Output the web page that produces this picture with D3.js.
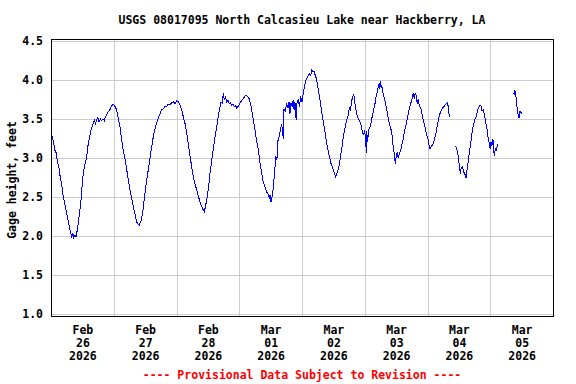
<html>
<head>
<meta http-equiv="Content-Type" content="text/html; charset=utf-8" />
<title>USGS 08017095 North Calcasieu Lake near Hackberry, LA</title>
<script src="https://cdn.jsdelivr.net/npm/d3@7"></script>
<style type="text/css">
	body{
		margin: 0;
		background: #fff;
	}
	svg text{
		font-family: "DejaVu Sans Mono", "Liberation Mono", monospace;
		font-weight: bold;
		font-size: 11.5px;
	}
</style>
</head>
<body>
<div id="chart"></div>

<script type="text/javascript">
	// hours after 2026-02-26 00:00, null = gap in the record
	var obsHours = [
		0,0.49,0.98,1.46,1.95,2.54,2.93,3.42,4.10,4.69,5.37,6.01,6.88,7.42,7.91,8.30,8.69,9.18,9.57,9.96,
		10.45,10.94,11.47,11.91,12.35,12.99,13.67,14.26,14.75,15.28,15.72,16.16,16.60,16.99,17.48,17.87,18.36,18.85,19.38,19.92,
		20.41,20.80,21.29,21.88,22.56,23.24,23.83,24.32,25.10,25.68,26.37,26.95,27.64,28.32,28.96,29.59,30.22,30.86,31.45,32.13,
		32.76,33.30,33.79,34.38,35.06,35.45,35.94,36.62,37.21,37.89,38.53,39.16,39.80,40.43,41.02,41.70,42.33,42.97,43.56,44.24,
		44.82,45.41,46.14,46.87,47.46,48.05,48.63,49.32,50.00,50.59,51.27,51.90,52.54,53.17,53.81,54.44,55.08,55.71,56.35,56.98,
		57.62,58.11,58.64,59.08,59.76,60.25,60.79,61.23,61.67,62.21,62.74,63.38,63.96,64.45,65.04,65.43,65.92,66.31,66.70,67.19,
		67.68,68.16,68.65,69.09,69.63,70.12,70.61,71.05,71.58,72.17,72.95,73.73,74.61,75.20,75.83,76.27,76.76,77.34,78.03,78.61,
		79.30,79.88,80.57,81.15,81.84,82.42,83.11,83.50,83.79,84.13,84.57,85.01,85.45,86.04,86.43,86.62,87.21,87.70,88.23,88.67,
		88.87,89.11,89.55,90.14,90.63,91.02,91.41,91.80,92.19,92.58,92.97,93.31,93.75,94.04,94.58,95.02,95.51,96.00,96.48,96.97,
		97.51,98.14,98.78,99.32,99.80,100.20,100.59,100.98,101.47,101.86,102.34,102.88,103.42,103.91,104.35,104.79,105.27,105.81,106.45,107.08,
		107.52,107.96,108.40,108.89,109.37,109.86,110.35,110.79,111.33,111.82,112.40,113.09,113.57,114.11,114.55,114.94,115.38,115.82,116.26,116.70,
		117.14,117.77,118.46,118.95,119.43,119.92,120.31,120.60,120.75,121.09,121.48,122.02,122.46,122.95,123.44,123.93,124.32,124.81,125.19,125.58,
		125.78,125.98,126.27,126.47,126.86,127.35,127.83,128.42,128.91,129.40,129.88,130.32,130.67,130.96,131.35,131.69,132.03,132.42,132.81,133.30,
		133.74,134.28,134.77,135.26,135.79,136.23,136.67,137.11,137.60,138.09,138.58,138.97,139.26,139.60,140.04,140.48,140.92,141.41,141.90,142.38,
		142.87,143.41,143.85,144.29,144.63,144.97,145.51,146.00,146.48,146.87,147.36,147.75,148.24,148.78,149.31,149.80,150.29,150.68,151.17,151.56,
		151.95,152.34,153.3,
		154.79,155.27,155.57,156.15,156.54,156.84,157.23,157.72,158.10,158.50,158.74,159.18,159.62,160.06,160.55,161.04,161.52,162.01,162.55,162.99,
		163.43,163.87,164.36,164.85,165.33,165.82,166.36,166.80,167.24,167.58,167.92,168.26,168.65,169.04,169.53,169.92,170.31,170.85,171.9,
		176.81,177.15,177.44,177.84,178.32,178.71,179.01,179.40,179.64,180.03
	];
	// gage height, feet
	var obsFeet = [
		3.32,3.27,3.20,3.10,3.07,2.93,2.90,2.78,2.66,2.50,2.40,2.29,2.14,2.05,1.99,2.04,1.98,2.01,1.99,2.06,
		2.17,2.30,2.46,2.65,2.81,2.92,3.02,3.19,3.26,3.36,3.40,3.44,3.50,3.43,3.49,3.52,3.46,3.50,3.48,3.50,
		3.48,3.53,3.55,3.59,3.62,3.67,3.69,3.67,3.62,3.52,3.40,3.25,3.10,2.98,2.85,2.72,2.59,2.48,2.38,2.28,
		2.18,2.15,2.14,2.19,2.29,2.41,2.55,2.72,2.85,3.00,3.15,3.28,3.38,3.45,3.51,3.57,3.62,3.63,3.66,3.66,
		3.69,3.68,3.71,3.72,3.70,3.73,3.72,3.68,3.62,3.53,3.44,3.32,3.17,3.02,2.89,2.76,2.67,2.59,2.51,2.44,
		2.38,2.34,2.31,2.38,2.50,2.62,2.80,2.90,3.02,3.14,3.27,3.40,3.53,3.62,3.72,3.70,3.83,3.74,3.79,3.72,
		3.74,3.70,3.71,3.68,3.69,3.66,3.67,3.64,3.66,3.70,3.74,3.77,3.81,3.79,3.76,3.70,3.62,3.50,3.36,3.23,
		3.10,2.95,2.80,2.70,2.63,2.57,2.53,2.48,2.53,2.44,2.50,2.61,2.80,3.02,2.98,3.20,3.27,3.35,3.44,3.30,
		3.24,3.62,3.60,3.70,3.64,3.72,3.57,3.70,3.66,3.74,3.62,3.72,3.49,3.70,3.76,3.66,3.79,3.72,3.83,3.92,
		4.00,4.04,4.08,4.06,4.13,4.10,4.11,4.07,4.02,3.96,3.85,3.74,3.62,3.51,3.42,3.34,3.22,3.12,3.02,2.93,
		2.89,2.85,2.80,2.76,2.80,2.85,2.93,3.04,3.15,3.27,3.38,3.49,3.53,3.64,3.60,3.72,3.79,3.81,3.70,3.60,
		3.53,3.49,3.44,3.36,3.30,3.34,3.27,3.06,3.34,3.20,3.36,3.40,3.46,3.55,3.62,3.70,3.78,3.85,3.92,3.96,
		3.88,3.98,3.90,3.94,3.85,3.79,3.72,3.62,3.52,3.44,3.38,3.34,3.20,3.12,3.05,2.92,3.02,3.08,3.00,3.06,
		3.10,3.18,3.25,3.36,3.42,3.50,3.57,3.65,3.70,3.76,3.83,3.76,3.83,3.81,3.70,3.76,3.66,3.64,3.56,3.49,
		3.42,3.34,3.28,3.23,3.16,3.12,3.15,3.17,3.22,3.27,3.34,3.42,3.50,3.57,3.62,3.64,3.66,3.68,3.70,3.71,
		3.66,3.53,null,
		3.15,3.10,3.06,2.91,2.80,2.86,2.89,2.84,2.80,2.78,2.74,2.86,2.97,3.08,3.19,3.32,3.42,3.48,3.53,3.58,
		3.64,3.67,3.68,3.60,3.62,3.55,3.44,3.36,3.25,3.19,3.12,3.21,3.16,3.24,3.02,3.12,3.10,3.18,null,
		3.83,3.82,3.87,3.79,3.62,3.54,3.51,3.60,3.59,3.57
	];
	var yTicks = [1.0, 1.5, 2.0, 2.5, 3.0, 3.5, 4.0, 4.5];
	var monthNames = ["Jan","Feb","Mar","Apr","May","Jun","Jul","Aug","Sep","Oct","Nov","Dec"];

	var W = 576, H = 384;
	var plotL = 51, plotR = 553, plotT = 39, plotB = 316;
	var t0 = new Date(Date.UTC(2026, 1, 26));
	var tEnd = new Date(Date.UTC(2026, 2, 6));

	var data = obsHours.map(function(h, i){
		return {t: new Date(+t0 + h * 3600e3), v: obsFeet[i]};
	});

	var svg = d3.select('#chart')
	.append('svg')
	.attr('width', W)
	.attr('height', H)
	.style('background', '#fff');

	var x = d3.scaleUtc().domain([t0, tEnd]).range([plotL, plotR]);
	var y = d3.scaleLinear().domain([1.0, 4.5]).range([314, 41]);

	// grid
	var days = d3.utcDay.range(d3.utcDay.offset(t0, 1), tEnd);
	svg.append('g').selectAll('line')
	.data(days)
	.enter()
	.append('line')
	.attr('x1', function(d){ return Math.round(x(d)) + 0.5; })
	.attr('x2', function(d){ return Math.round(x(d)) + 0.5; })
	.attr('y1', plotT)
	.attr('y2', plotB)
	.attr('stroke', '#cccccc');

	svg.append('g').selectAll('line')
	.data(yTicks)
	.enter()
	.append('line')
	.attr('x1', plotL)
	.attr('x2', plotR)
	.attr('y1', function(d){ return Math.round(y(d)) + 0.5; })
	.attr('y2', function(d){ return Math.round(y(d)) + 0.5; })
	.attr('stroke', '#cccccc');

	// data line
	var line = d3.line()
	.defined(function(d){ return d.v != null; })
	.x(function(d){ return x(d.t); })
	.y(function(d){ return y(d.v); });

	svg.append('path')
	.datum(data)
	.attr('d', line)
	.attr('fill', 'none')
	.attr('stroke', '#0000ff')
	.attr('stroke-width', 1)
	.attr('shape-rendering', 'crispEdges');

	// frame
	svg.append('rect')
	.attr('x', plotL + 0.5)
	.attr('y', plotT + 0.5)
	.attr('width', plotR - plotL)
	.attr('height', plotB - plotT)
	.attr('fill', 'none')
	.attr('stroke', '#000');

	// y axis labels
	var yAxis = svg.append('g')
	.attr('transform', 'translate(' + plotL + ',0)')
	.call(d3.axisLeft(y).tickValues(yTicks).tickSize(0).tickPadding(8).tickFormat(d3.format('.1f')));
	yAxis.select('.domain').remove();
	yAxis.selectAll('text')
	.attr('fill', '#000')
	.style('font-family', '"DejaVu Sans Mono", monospace')
	.style('font-size', '11.5px')
	.style('font-weight', 'bold');

	// x axis labels at noon of each day
	var noons = d3.utcDay.range(t0, tEnd).map(function(d){
		return d3.utcHour.offset(d, 12);
	});

	var xAxis = svg.append('g')
	.attr('transform', 'translate(0,' + plotB + ')')
	.call(d3.axisBottom(x).tickValues(noons).tickSize(0).tickFormat(''));
	xAxis.select('.domain').remove();
	xAxis.selectAll('.tick').each(function(d){
		var t = d3.select(this).select('text')
		.attr('y', 0)
		.attr('dy', null)
		.attr('fill', '#000')
		.style('font-family', '"DejaVu Sans Mono", monospace')
		.style('font-size', '11.5px')
		.style('font-weight', 'bold');
		var lines = [monthNames[d.getUTCMonth()], d3.format('02d')(d.getUTCDate()), d.getUTCFullYear()];
		lines.forEach(function(s, i){
			t.append('tspan').attr('x', 0).attr('y', 18 + i * 13).text(s);
		});
	});

	// titles
	svg.append('text')
	.attr('x', (plotL + plotR) / 2)
	.attr('y', 24)
	.attr('text-anchor', 'middle')
	.text('USGS 08017095 North Calcasieu Lake near Hackberry, LA');

	svg.append('text')
	.attr('transform', 'translate(16,180) rotate(-90)')
	.attr('text-anchor', 'middle')
	.text('Gage height, feet');

	svg.append('text')
	.attr('x', (plotL + plotR) / 2)
	.attr('y', 379)
	.attr('text-anchor', 'middle')
	.attr('fill', '#ff0000')
	.text('---- Provisional Data Subject to Revision ----');
</script>
</body>
</html>
